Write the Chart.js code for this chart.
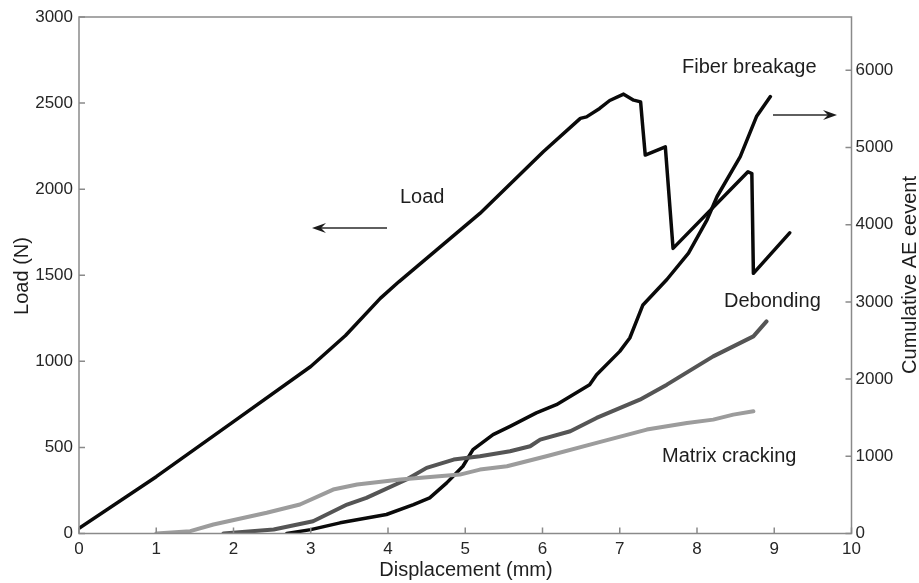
<!DOCTYPE html>
<html>
<head>
    <meta charset="utf-8"/>
    <title>Load and cumulative AE events</title>
    <style>
        body { margin: 0; background: #ffffff; }
        #chart { display: block; }
    </style>
</head>
<body>
    <canvas id="chart" width="919" height="583"></canvas>

    <script src="https://cdn.jsdelivr.net/npm/chart.js"></script>
    <script>
        // Load curve (left axis, N) against displacement (mm)
        const loadX = [0, 1, 2, 3, 3.45, 3.9, 4.14, 5.19, 6.01, 6.49, 6.57, 6.74, 6.87, 7.05, 7.18, 7.27, 7.30, 7.33, 7.59, 7.69, 8.66, 8.71, 8.73, 9.20];
        const loadY = [30, 330, 650, 970, 1150, 1366, 1462, 1859, 2217, 2411, 2420, 2469, 2515, 2552, 2517, 2507, 2350, 2198, 2246, 1656, 2101, 2091, 1511, 1746];

        // Cumulative AE events (right axis)
        const fiberX = [2.69, 3.0, 3.38, 3.98, 4.33, 4.54, 4.76, 4.97, 5.10, 5.36, 5.58, 5.92, 6.18, 6.61, 6.70, 7.00, 7.13, 7.30, 7.61, 7.89, 8.13, 8.26, 8.56, 8.77, 8.95];
        const fiberY = [0, 50, 138, 246, 375, 462, 656, 871, 1087, 1281, 1388, 1562, 1669, 1928, 2057, 2359, 2532, 2960, 3290, 3632, 4063, 4365, 4882, 5400, 5659];

        const debondX = [1.87, 2.52, 3.03, 3.47, 3.72, 4.24, 4.50, 4.85, 5.19, 5.58, 5.84, 5.97, 6.36, 6.70, 7.26, 7.61, 8.21, 8.73, 8.90];
        const debondY = [0, 52, 159, 375, 462, 699, 850, 958, 1000, 1065, 1130, 1216, 1324, 1497, 1734, 1928, 2294, 2553, 2747];

        const matrixX = [1.0, 1.44, 1.74, 2.43, 2.86, 3.29, 3.60, 4.16, 4.93, 5.19, 5.54, 6.05, 6.70, 7.35, 7.87, 8.21, 8.47, 8.73];
        const matrixY = [0, 30, 116, 268, 375, 569, 634, 699, 763, 828, 871, 1000, 1173, 1346, 1432, 1475, 1540, 1583];

        // Axis ticks
        const xTicks = [0, 1, 2, 3, 4, 5, 6, 7, 8, 9, 10];
        const loadTicks = [0, 500, 1000, 1500, 2000, 2500, 3000];
        const aeTicks = [0, 1000, 2000, 3000, 4000, 5000, 6000];
        const aeMax = 6690;

        const FONT = '"Liberation Sans", Arial, sans-serif';
        const AXIS_GREY = '#8a8a8a';
        const TICK_FONT = { family: FONT, size: 17 };

        function toPoints(xs, ys) {
            return xs.map((x, i) => ({ x: x, y: ys[i] }));
        }

        // plain numbers, no thousands separator
        const plain = v => String(v);

        // frame, inward tick marks, axis titles, curve labels and arrows
        const decorations = {
            id: 'decorations',
            afterDraw(chart) {
                const ctx = chart.ctx;
                const area = chart.chartArea;
                const sx = chart.scales.x, sy = chart.scales.y, sy1 = chart.scales.y1;

                ctx.save();
                ctx.strokeStyle = AXIS_GREY;
                ctx.lineWidth = 1.5;
                ctx.strokeRect(area.left, area.top, area.right - area.left, area.bottom - area.top);

                ctx.beginPath();
                xTicks.forEach(v => {
                    const px = sx.getPixelForValue(v);
                    ctx.moveTo(px, area.bottom);
                    ctx.lineTo(px, area.bottom - 6);
                });
                loadTicks.forEach(v => {
                    const py = sy.getPixelForValue(v);
                    ctx.moveTo(area.left, py);
                    ctx.lineTo(area.left + 6, py);
                });
                aeTicks.forEach(v => {
                    const py = sy1.getPixelForValue(v);
                    ctx.moveTo(area.right, py);
                    ctx.lineTo(area.right - 6, py);
                });
                ctx.stroke();

                ctx.fillStyle = '#1e1e1e';
                ctx.font = '20px ' + FONT;
                ctx.textBaseline = 'alphabetic';

                // axis titles
                ctx.textAlign = 'center';
                ctx.fillText('Displacement (mm)', 466, 576);

                ctx.save();
                ctx.translate(28, 276);
                ctx.rotate(-Math.PI / 2);
                ctx.fillText('Load (N)', 0, 0);
                ctx.restore();

                ctx.save();
                ctx.translate(916, 275);
                ctx.rotate(-Math.PI / 2);
                ctx.fillText('Cumulative AE eevent', 0, 0);
                ctx.restore();

                // curve labels
                ctx.textAlign = 'left';
                ctx.fillText('Fiber breakage', 682, 73);
                ctx.fillText('Load', 400, 203);
                ctx.fillText('Debonding', 724, 307);
                ctx.fillText('Matrix cracking', 662, 462);

                // arrows pointing at each curve's axis
                drawArrow(ctx, 387, 228, 312, 228);
                drawArrow(ctx, 773, 115, 837, 115);
                ctx.restore();
            }
        };

        function drawArrow(ctx, x0, y0, x1, y1) {
            const dir = Math.sign(x1 - x0);
            ctx.strokeStyle = '#2a2a2a';
            ctx.fillStyle = '#1a1a1a';
            ctx.lineWidth = 1.5;
            ctx.beginPath();
            ctx.moveTo(x0, y0);
            ctx.lineTo(x1 - dir * 6, y1);
            ctx.stroke();
            ctx.beginPath();
            ctx.moveTo(x1, y1);
            ctx.lineTo(x1 - dir * 14, y1 - 5);
            ctx.lineTo(x1 - dir * 9, y1);
            ctx.lineTo(x1 - dir * 14, y1 + 5);
            ctx.closePath();
            ctx.fill();
        }

        function lineSet(label, points, color, width, axis) {
            return {
                label: label,
                data: points,
                yAxisID: axis,
                borderColor: color,
                borderWidth: width,
                borderJoinStyle: 'round',
                borderCapStyle: 'round',
                pointRadius: 0,
                tension: 0,
                fill: false
            };
        }

        new Chart(document.getElementById('chart'), {
            type: 'line',
            data: {
                datasets: [
                    lineSet('Matrix cracking', toPoints(matrixX, matrixY), '#9c9c9c', 4, 'y1'),
                    lineSet('Debonding', toPoints(debondX, debondY), '#555555', 4, 'y1'),
                    lineSet('Fiber breakage', toPoints(fiberX, fiberY), '#0a0a0a', 3.5, 'y1'),
                    lineSet('Load', toPoints(loadX, loadY), '#0a0a0a', 3.5, 'y')
                ]
            },
            options: {
                responsive: false,
                animation: false,
                events: [],
                layout: { padding: { top: 17, left: 0, right: 0, bottom: 0 } },
                plugins: {
                    legend: { display: false },
                    tooltip: { enabled: false }
                },
                scales: {
                    x: {
                        type: 'linear',
                        min: 0,
                        max: 10,
                        grid: { display: false },
                        border: { display: false },
                        afterBuildTicks: s => { s.ticks = xTicks.map(v => ({ value: v })); },
                        afterFit: s => { s.height = 49.5; },
                        ticks: {
                            autoSkip: false,
                            maxRotation: 0,
                            padding: -2,
                            color: '#262626',
                            font: TICK_FONT,
                            callback: plain
                        }
                    },
                    y: {
                        type: 'linear',
                        position: 'left',
                        min: 0,
                        max: 3000,
                        grid: { display: false },
                        border: { display: false },
                        afterBuildTicks: s => { s.ticks = loadTicks.map(v => ({ value: v })); },
                        afterFit: s => { s.width = 79; },
                        ticks: {
                            padding: -2,
                            color: '#262626',
                            font: TICK_FONT,
                            callback: plain
                        }
                    },
                    y1: {
                        type: 'linear',
                        position: 'right',
                        min: 0,
                        max: aeMax,
                        grid: { display: false },
                        border: { display: false },
                        afterBuildTicks: s => { s.ticks = aeTicks.map(v => ({ value: v })); },
                        afterFit: s => { s.width = 67.5; },
                        ticks: {
                            padding: -4,
                            color: '#262626',
                            font: TICK_FONT,
                            callback: plain
                        }
                    }
                }
            },
            plugins: [decorations]
        });
    </script>
</body>
</html>
